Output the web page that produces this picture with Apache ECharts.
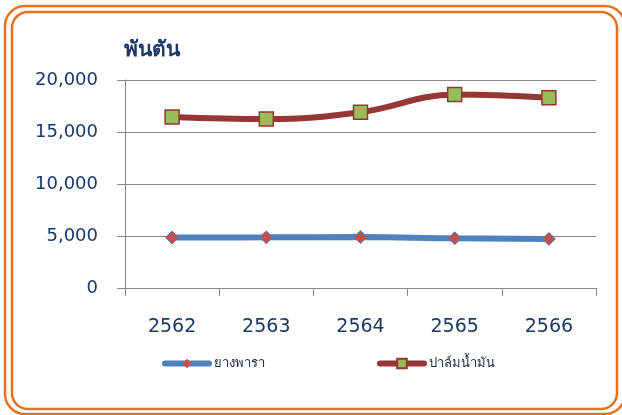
<!DOCTYPE html>
<html><head><meta charset="utf-8">
<script src="https://cdn.jsdelivr.net/npm/echarts@6/dist/echarts.min.js"></script>
<style>html,body{margin:0;padding:0;background:#fff}#c{width:622px;height:415px}</style>
</head><body><div id="c"></div>
<script>
const categories = ['2562','2563','2564','2565','2566'];
const rubber = [4850, 4870, 4900, 4780, 4720];
const palm = [16450, 16250, 16900, 18600, 18300];
const yTicks = [0, 5000, 10000, 15000, 20000];
const seriesNames = ['ยางพารา', 'ปาล์มน้ำมัน'];
const unitLabel = 'พันตัน';

const navy = '#1B3868';
const legendBase = {top:352, itemWidth:44, itemHeight:12,
  textStyle:{fontSize:13, color:'#1B2A48', fontFamily:'"Noto Sans", sans-serif', padding:[0,0,0,0]},
  lineStyle:{width:6, cap:'round'}};
const chart = echarts.init(document.getElementById('c'), null, {renderer:'canvas'});
chart.setOption({
  animation: false,
  backgroundColor: '#fff',
  graphic: [
    {type:'rect', shape:{x:5, y:6, width:620, height:408, r:20}, style:{fill:'none', stroke:'#E8711E', lineWidth:2.5}, silent:true},
    {type:'rect', shape:{x:12, y:12, width:605, height:397, r:16}, style:{fill:'none', stroke:'#E8711E', lineWidth:2.5}, silent:true},
    {type:'text', left:124, top:40, style:{text:unitLabel, font:'bold 21px "Noto Sans", sans-serif', fill:navy}}
  ],
  grid: {left:125, right:26, top:80, bottom:127},
  legend: [
    Object.assign({data:[{name:seriesNames[0], itemStyle:{borderWidth:0}}], left:157}, legendBase),
    Object.assign({data:[seriesNames[1]], left:372}, legendBase)
  ],
  xAxis: {
    type:'category', data:categories, boundaryGap:true,
    axisLine:{lineStyle:{color:'#888', width:1}},
    axisTick:{show:true, length:8, inside:false, lineStyle:{color:'#888'}},
    axisLabel:{color:navy, fontSize:19, fontFamily:'"DejaVu Sans", sans-serif', margin:30}
  },
  yAxis: {
    type:'value', min:yTicks[0], max:yTicks[yTicks.length-1], interval:5000,
    axisLine:{show:true, lineStyle:{color:'#888', width:1}},
    axisTick:{show:true, length:8, lineStyle:{color:'#888'}},
    splitLine:{lineStyle:{color:'#888', width:1}},
    axisLabel:{color:navy, fontSize:18, fontFamily:'"DejaVu Sans", sans-serif', margin:27,
      formatter: v => v.toLocaleString('en-US')}
  },
  series: [
    {name:seriesNames[0], type:'line', data:rubber, smooth:0.4,
     lineStyle:{color:'#4F81BD', width:6},
     symbol:'diamond', symbolSize:13,
     itemStyle:{color:'#C0504D', borderColor:'#4F81BD', borderWidth:1}},
    {name:seriesNames[1], type:'line', data:palm, smooth:0.4,
     lineStyle:{color:'#953735', width:6},
     symbol:'rect', symbolSize:14,
     itemStyle:{color:'#9BBB59', borderColor:'#953735', borderWidth:1.5}}
  ]
});
</script></body></html>
